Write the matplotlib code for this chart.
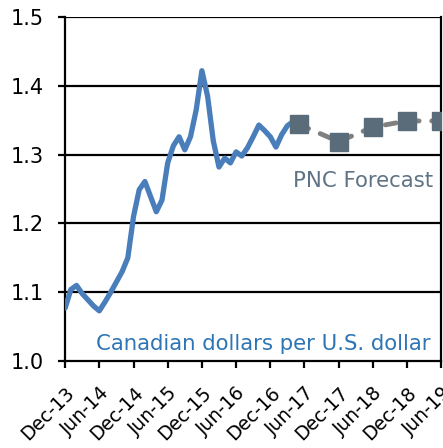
import numpy as np
import matplotlib as mpl
mpl.use('Agg')
import matplotlib.pyplot as plt

plt.rcParams['font.family'] = ['DejaVu Sans']

# 月度实际汇率（从 Dec-13 起算的月份序号）
hist_values = [1.077, 1.104, 1.110, 1.098, 1.089, 1.080, 1.073, 1.086, 1.100, 1.115,
               1.130, 1.150, 1.210, 1.249, 1.261, 1.239, 1.217, 1.234, 1.288, 1.313,
               1.326, 1.307, 1.326, 1.365, 1.422, 1.385, 1.320, 1.282, 1.295, 1.288,
               1.304, 1.298, 1.310, 1.326, 1.343, 1.335, 1.326, 1.311, 1.329, 1.342,
               1.348]
hist_months = list(range(len(hist_values)))

# PNC 预测
fc_months = [41, 48, 54, 60, 66]
fc_values = [1.344, 1.319, 1.340, 1.349, 1.349]

tick_labels = ['Dec-13', 'Jun-14', 'Dec-14', 'Jun-15', 'Dec-15', 'Jun-16',
               'Dec-16', 'Jun-17', 'Dec-17', 'Jun-18', 'Dec-18', 'Jun-19']
tick_pos = [6 * i for i in range(len(tick_labels))]

fig = plt.figure(figsize=(4.43, 4.48), dpi=100)
ax = fig.add_axes([0.147, 0.194, 0.849, 0.768])

for y in [1.1, 1.2, 1.3, 1.4, 1.5]:
    ax.axhline(y, color='black', linewidth=1.6, zorder=1)

ax.plot(hist_months, hist_values, color='#4a7ebb', linewidth=3.8,
        solid_joinstyle='round', solid_capstyle='round', zorder=3)
ax.plot(fc_months, fc_values, color='#808080', linewidth=3.5,
        linestyle=(0, (2.2, 2.6)), dash_capstyle='round', zorder=3)
ax.plot(fc_months, fc_values, linestyle='none', marker='s', markersize=13.5,
        color='#5a6b7a', zorder=4, clip_on=True)

ax.set_xlim(0, 66)
ax.set_ylim(1.0, 1.5)
ax.set_yticks([1.0, 1.1, 1.2, 1.3, 1.4, 1.5])
ax.set_yticklabels(['1.0', '1.1', '1.2', '1.3', '1.4', '1.5'])
ax.set_xticks(tick_pos)
ax.set_xticklabels(tick_labels, rotation=45, ha='right', va='top',
                   rotation_mode='anchor')
ax.tick_params(axis='both', length=5, width=1.6, colors='black')
ax.tick_params(axis='x', labelsize=13.5, pad=11)
ax.tick_params(axis='y', labelsize=15, pad=10.5)

for s in ['left', 'right', 'bottom']:
    ax.spines[s].set_linewidth(1.6)
ax.spines['top'].set_visible(False)

ax.text(0.979, 0.523, 'PNC Forecast', transform=ax.transAxes, ha='right',
        va='center', fontsize=15.3, color='#5f7384')
ax.text(0.971, 0.05, 'Canadian dollars per U.S. dollar', transform=ax.transAxes,
        ha='right', va='center', fontsize=15.3, color='#2e75b6')

plt.savefig('out.png', dpi=100)
